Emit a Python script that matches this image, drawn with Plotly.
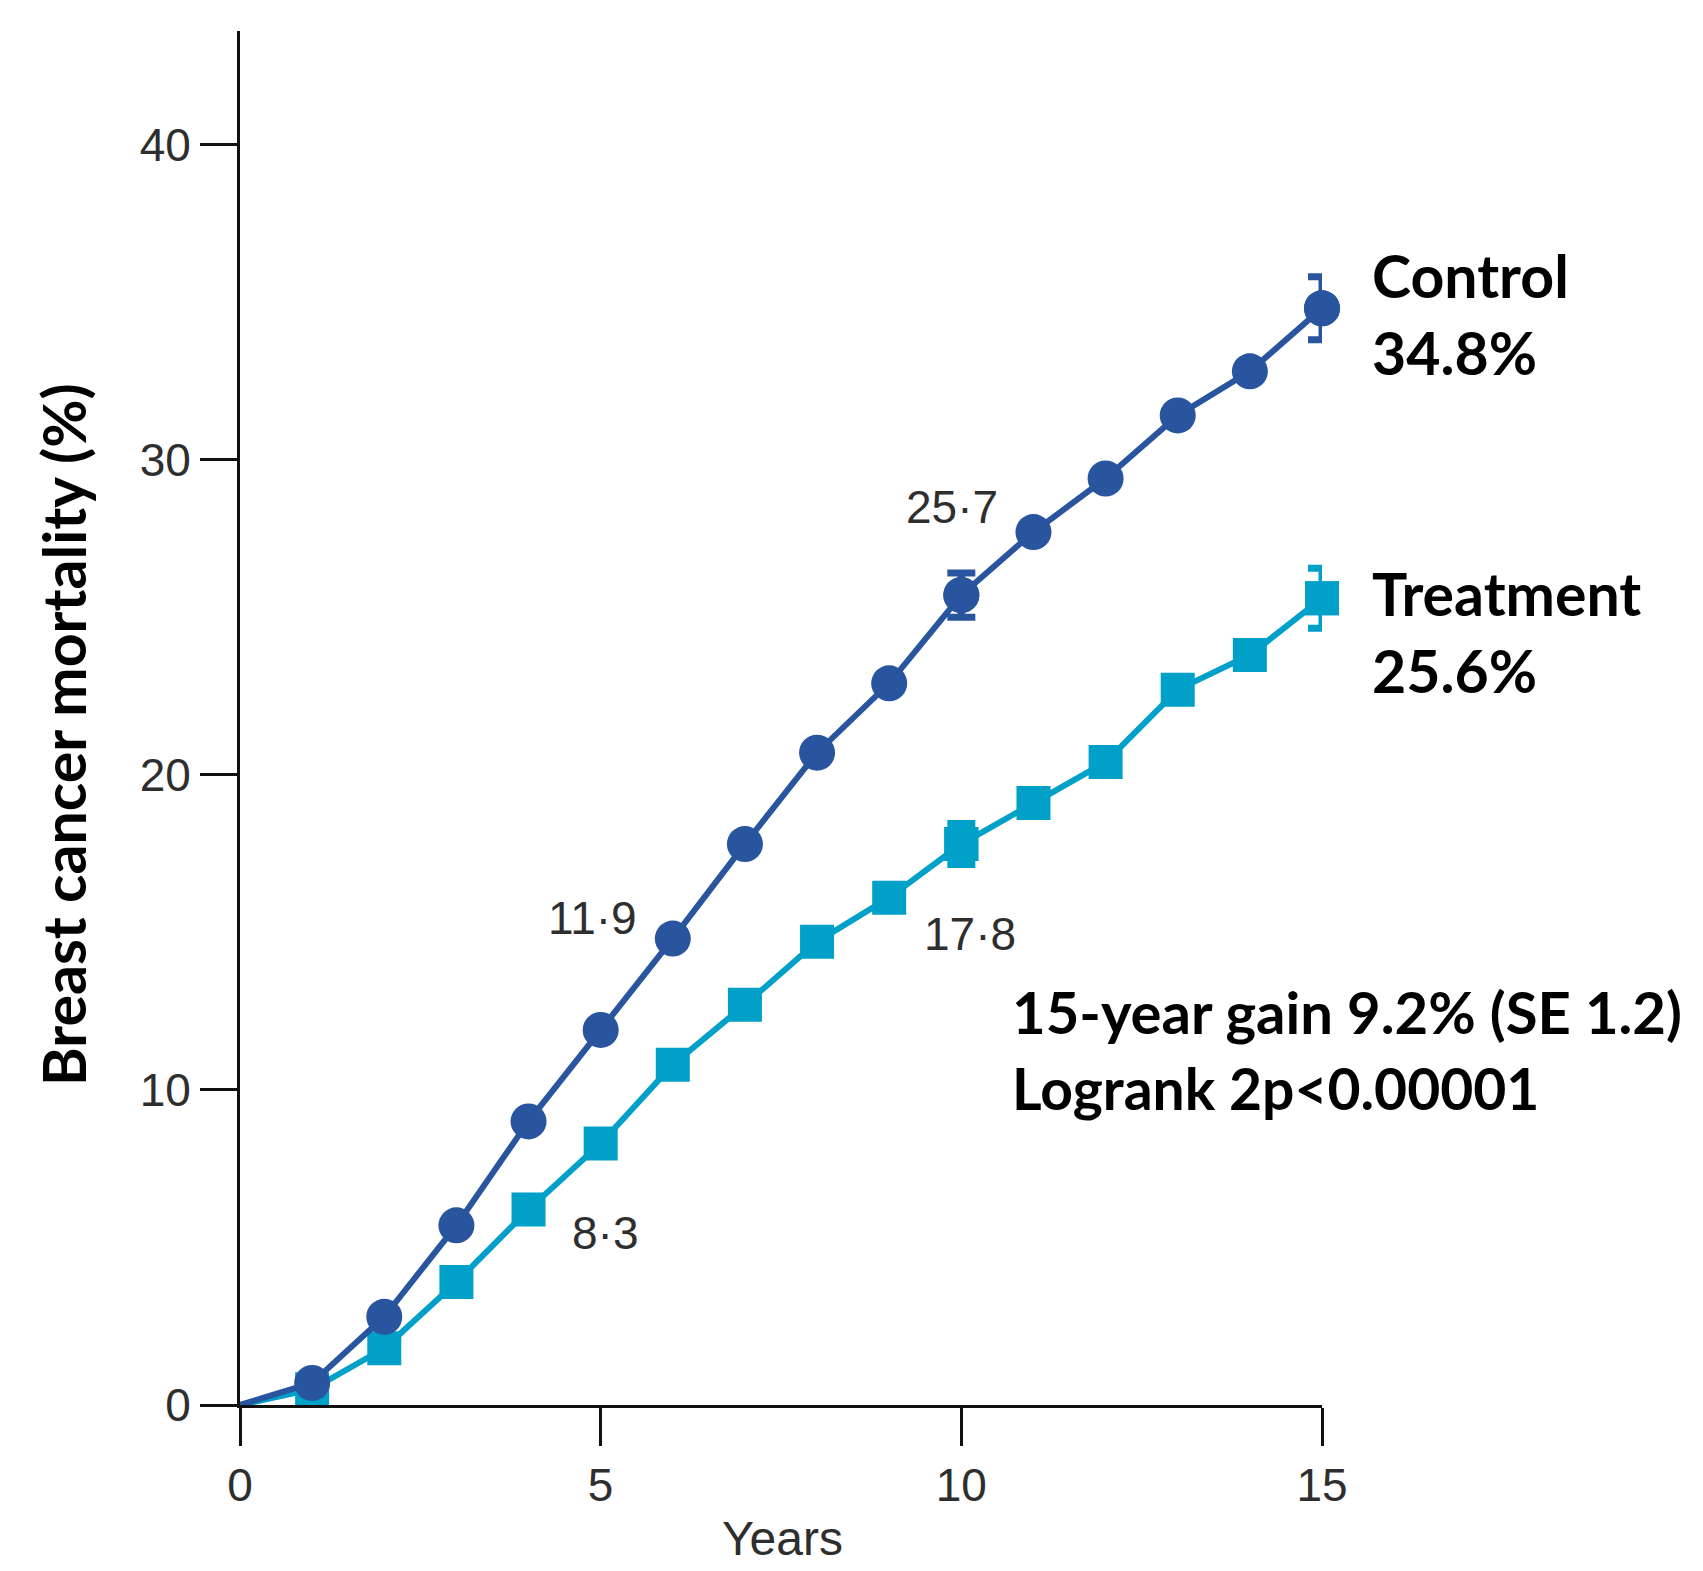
import plotly.graph_objects as go

years = list(range(0, 16))
control = [0, 0.7, 2.8, 5.7, 9.0, 11.9, 14.8, 17.8, 20.7, 22.9, 25.7, 27.7, 29.4, 31.4, 32.8, 34.8]
treatment = [0, 0.5, 1.8, 3.9, 6.2, 8.3, 10.8, 12.7, 14.7, 16.1, 17.8, 19.1, 20.4, 22.7, 23.8, 25.6]

# error bars shown only at 10 and 15 years
err_years = [10, 15]
control_err = [0.7, 1.0]
treatment_err = [0.65, 0.95]

x_ticks = [0, 5, 10, 15]
y_ticks = [0, 10, 20, 30, 40]

point_labels = [
    ("11·9", 4.88, 15.45),
    ("8·3", 5.06, 5.45),
    ("25·7", 9.87, 28.5),
    ("17·8", 10.12, 14.95),
]

CONTROL_C = "#29549e"
TREAT_C = "#00a0c8"

msize_c = [0] + [36] * 15
msize_t = [0] + [34] * 15

fig = go.Figure()
# treatment (drawn first, underneath)
fig.add_trace(go.Scatter(
    x=[years[i] for i in range(len(years)) if years[i] in err_years],
    y=[treatment[i] for i in range(len(years)) if years[i] in err_years],
    mode="markers", marker=dict(symbol="square", size=34, color=TREAT_C, opacity=1),
    error_y=dict(type="data", array=treatment_err, visible=True,
                 color=TREAT_C, thickness=7, width=14),
    cliponaxis=False, showlegend=False, hoverinfo="skip",
))
fig.add_trace(go.Scatter(
    x=years, y=treatment, mode="lines+markers",
    line=dict(color=TREAT_C, width=6),
    marker=dict(symbol="square", size=msize_t, color=TREAT_C, opacity=1, line=dict(width=0)),
    cliponaxis=False, showlegend=False,
))
# control
fig.add_trace(go.Scatter(
    x=[years[i] for i in range(len(years)) if years[i] in err_years],
    y=[control[i] for i in range(len(years)) if years[i] in err_years],
    mode="markers", marker=dict(symbol="circle", size=36, color=CONTROL_C, opacity=1),
    error_y=dict(type="data", array=control_err, visible=True,
                 color=CONTROL_C, thickness=7, width=14),
    cliponaxis=False, showlegend=False, hoverinfo="skip",
))
fig.add_trace(go.Scatter(
    x=years, y=control, mode="lines+markers",
    line=dict(color=CONTROL_C, width=6),
    marker=dict(symbol="circle", size=msize_c, color=CONTROL_C, opacity=1, line=dict(width=0)),
    cliponaxis=False, showlegend=False,
))

tick_font = dict(family="Liberation Sans, Arial, sans-serif", size=46, color="#2e2e2e")
BOLD = "Lato, 'Open Sans', sans-serif"

annotations = []
for txt, xv, yv in point_labels:
    annotations.append(dict(text=txt, x=xv, y=yv, xref="x", yref="y",
                            showarrow=False, xanchor="center", yanchor="middle",
                            font=dict(family="Liberation Sans, Arial, sans-serif", size=46, color="#2e2e2e")))

def px_x(p):
    return (p - 240) / 1082.0

def px_y(p):
    return (1405 - p) / 1374.0

side_texts = [
    ("<b>Control</b>", 1370, 275, 59),
    ("<b>34.8%</b>", 1370, 353, 59),
    ("<b>Treatment</b>", 1370, 593, 59),
    ("<b>25.6%</b>", 1370, 670, 59),
    ("<b>15-year gain 9.2% (SE 1.2)</b>", 1010, 1012, 58),
    ("<b>Logrank 2p&lt;0.00001</b>", 1010, 1088, 57),
]
for txt, px, py, fs in side_texts:
    annotations.append(dict(text=txt, x=px_x(px), y=px_y(py), xref="paper", yref="paper",
                            showarrow=False, xanchor="left", yanchor="middle",
                            font=dict(family=BOLD, size=fs, color="black")))

annotations.append(dict(text="<b>Breast cancer mortality (%)</b>", x=px_x(63), y=px_y(735),
                        xref="paper", yref="paper", showarrow=False, textangle=-90,
                        xanchor="center", yanchor="middle",
                        font=dict(family=BOLD, size=59, color="black")))
annotations.append(dict(text="Years", x=px_x(782), y=px_y(1510), xref="paper", yref="paper",
                        showarrow=False, xanchor="center", yanchor="top",
                        font=dict(family="'Liberation Sans Narrow', 'Liberation Sans', Arial, sans-serif",
                                  size=48, color="#2e2e2e")))

fig.update_layout(
    width=1695, height=1563,
    margin=dict(l=232, r=381, t=23, b=166),
    paper_bgcolor="white", plot_bgcolor="white",
    showlegend=False,
    annotations=annotations,
    xaxis=dict(range=[0, 15], tickvals=x_ticks, ticktext=[str(v) for v in x_ticks],
               showgrid=False, zeroline=False, showline=True, linecolor="#111", linewidth=3,
               ticks="outside", ticklen=38, tickwidth=3, tickcolor="#111",
               tickfont=tick_font),
    yaxis=dict(range=[0, 43.6], tickvals=y_ticks, ticktext=[str(v) for v in y_ticks],
               showgrid=False, zeroline=False, showline=True, linecolor="#111", linewidth=3,
               ticks="outside", ticklen=37, tickwidth=3, tickcolor="#111",
               tickfont=tick_font),
)

fig.write_html("out.html")
